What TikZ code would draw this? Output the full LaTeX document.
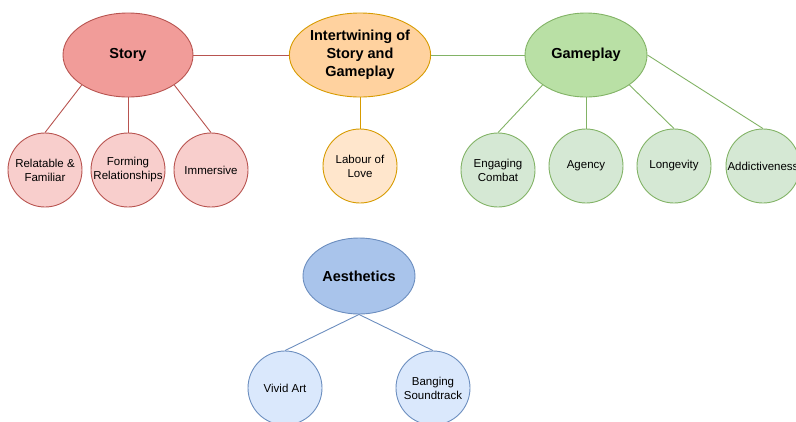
\documentclass[tikz,border=0pt]{standalone}
\usepackage{fontspec}
\setmainfont{Liberation Sans}
\usetikzlibrary{shapes.geometric}
\definecolor{redS}{HTML}{B85450}
\definecolor{redF}{HTML}{F19C99}
\definecolor{redL}{HTML}{F8CECC}
\definecolor{orS}{HTML}{D79B00}
\definecolor{orF}{HTML}{FFD29F}
\definecolor{orL}{HTML}{FFE6CC}
\definecolor{grS}{HTML}{82B366}
\definecolor{grF}{HTML}{B9E0A5}
\definecolor{grL}{HTML}{D5E8D4}
\definecolor{blS}{HTML}{6C8EBF}
\definecolor{blF}{HTML}{A9C4EB}
\definecolor{blL}{HTML}{DAE8FC}
\tikzset{
  mainell/.style={ellipse, draw, line width=0.9pt, inner sep=0pt, align=center,
    font=\fontsize{14.5}{18}\selectfont\bfseries, text=black},
  leaf/.style={circle, draw, line width=0.9pt, inner sep=0pt, minimum size=74pt, align=center,
    font=\fontsize{11.5}{14}\selectfont, text=black},
  link/.style={line width=0.9pt},
}
\begin{document}
\begin{tikzpicture}[x=1pt,y=-1pt]
\useasboundingbox (0,0) rectangle (796,421);
\clip (0,0) rectangle (796,421);
% main nodes
\node[mainell, fill=redF, draw=redS, minimum width=130pt, minimum height=84pt] (story) at (128,55) {Story};
\node[mainell, fill=orF, draw=orS, minimum width=130pt, minimum height=84pt] (inter) at (360,55) {Intertwining of\\Story and\\Gameplay};
\node[mainell, fill=grF, draw=grS, minimum width=122pt, minimum height=84pt] (game) at (586,55) {Gameplay};
\node[mainell, fill=blF, draw=blS, minimum width=112pt, minimum height=76pt] (aest) at (359,276) {Aesthetics};
% leaves
\node[leaf, fill=redL, draw=redS] (rel) at (45,170) {Relatable \&\\Familiar};
\node[leaf, fill=redL, draw=redS] (form) at (128,170) {Forming\\Relationships};
\node[leaf, fill=redL, draw=redS] (imm) at (211,170) {Immersive};
\node[leaf, fill=orL, draw=orS] (lab) at (360,166) {Labour of\\Love};
\node[leaf, fill=grL, draw=grS] (eng) at (498,170) {Engaging\\Combat};
\node[leaf, fill=grL, draw=grS] (agen) at (586,166) {Agency};
\node[leaf, fill=grL, draw=grS] (long) at (674,166) {Longevity};
\node[leaf, fill=grL, draw=grS] (addi) at (763,166) {Addictiveness};
\node[leaf, fill=blL, draw=blS] (vivid) at (285,388) {Vivid Art};
\node[leaf, fill=blL, draw=blS] (bang) at (433,388) {Banging\\Soundtrack};
% links
\draw[link, redS] (story.east) -- (inter.west);
\draw[link, grS] (inter.east) -- (game.west);
\draw[link, orS] (inter.south) -- (lab.north);
\draw[link, redS] (story.south west) -- (rel.north);
\draw[link, redS] (story.south) -- (form.north);
\draw[link, redS] (story.south east) -- (imm.north);
\draw[link, grS] (game.south west) -- (eng.north);
\draw[link, grS] (game.south) -- (agen.north);
\draw[link, grS] (game.south east) -- (long.north);
\draw[link, grS] (game.east) -- (addi.north);
\draw[link, blS] (aest.south) -- (vivid.north);
\draw[link, blS] (aest.south) -- (bang.north);
\end{tikzpicture}
\end{document}
